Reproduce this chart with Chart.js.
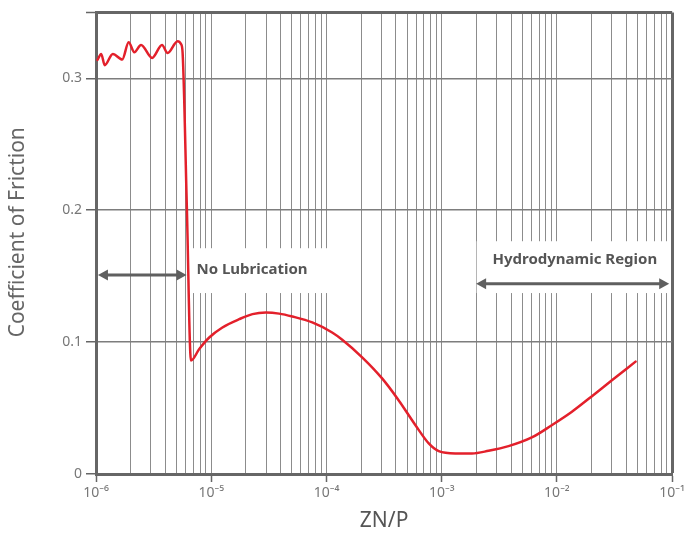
<!DOCTYPE html>
<html>
<head>
<meta charset="utf-8">
<script src="https://cdn.jsdelivr.net/npm/chart.js@4.4.1/dist/chart.umd.min.js"></script>
<style>
  html, body { margin: 0; padding: 0; background: #fff; }
  #wrap { width: 688px; height: 535px; }
</style>
</head>
<body>
<div id="wrap"><canvas id="frictionChart"></canvas></div>
<script>
// Stribeck curve, values
const znp = [
  1.03e-6, 1.11e-6, 1.19e-6, 1.40e-6, 1.69e-6, 1.92e-6, 2.15e-6, 2.46e-6,
  3.07e-6, 3.74e-6, 4.18e-6, 5.11e-6, 5.47e-6, 5.64e-6, 6.14e-6, 6.67e-6,
  7.87e-6, 9.61e-6, 1.25e-5, 1.75e-5, 2.28e-5, 2.98e-5, 3.88e-5, 5.06e-5,
  7.53e-5, 1.12e-4, 1.37e-4, 2.04e-4, 3.04e-4, 4.24e-4, 5.92e-4, 7.72e-4,
  9.42e-4, 1.31e-3, 1.83e-3, 2.55e-3, 3.80e-3, 6.05e-3, 9.02e-3, 1.34e-2,
  2.00e-2, 2.98e-2, 4.81e-2
];
const friction = [
  0.314, 0.3185, 0.310, 0.3185, 0.3143, 0.3273, 0.3198, 0.3253,
  0.3155, 0.3253, 0.3192, 0.3281, 0.326, 0.3198, 0.203, 0.086,
  0.0948, 0.1035, 0.1111, 0.1174, 0.1212, 0.1224, 0.1216, 0.1194,
  0.1149, 0.1073, 0.1018, 0.0885, 0.0725, 0.0558, 0.037, 0.0232,
  0.0173, 0.0156, 0.0156, 0.0176, 0.0211, 0.0277, 0.037, 0.047,
  0.0588, 0.0709, 0.0852
];

// axis ticks
const decadeExps = [-6, -5, -4, -3, -2, -1];
const yTickValues = [0, 0.1, 0.2, 0.3, 0.35];
const yTickLabels = ['0', '0.1', '0.2', '0.3', ''];

// region notes (data coordinates)
const regionNames = ['No Lubrication', 'Hydrodynamic Region'];
const regionBoxes = [
  { x0: 6.23e-6, x1: 1.41e-4, y0: 0.1372, y1: 0.1712 },
  { x0: 2.01e-3, x1: 9.30e-2, y0: 0.1372, y1: 0.1765 }
];
const regionArrows = [
  { x0: 1.04e-6, x1: 6.11e-6, y: 0.1508 },
  { x0: 1.99e-3, x1: 9.42e-2, y: 0.1442 }
];
const regionText = [
  { x: 7.45e-6, y: 0.1546, align: 'left' },
  { x: 1.43e-2, y: 0.1621, align: 'center' }
];

const SUP = { '-': '\u207B', '0': '\u2070', '1': '\u00B9', '2': '\u00B2', '3': '\u00B3',
  '4': '\u2074', '5': '\u2075', '6': '\u2076', '7': '\u2077', '8': '\u2078', '9': '\u2079' };
const sup = s => String(s).split('').map(c => SUP[c] || c).join('');

const isDecade = v => Math.abs(Math.log10(v) - Math.round(Math.log10(v))) < 1e-6;

const gray = '#666';
const font = "'Noto Sans', 'Open Sans', sans-serif";

function drawArrow(ctx, xa, xb, y) {
  const head = 10, half = 5.5;
  ctx.strokeStyle = '#5f5f5f';
  ctx.fillStyle = '#5f5f5f';
  ctx.lineWidth = 3;
  ctx.beginPath();
  ctx.moveTo(xa + head - 1, y);
  ctx.lineTo(xb - head + 1, y);
  ctx.stroke();
  ctx.beginPath();
  ctx.moveTo(xa, y); ctx.lineTo(xa + head, y - half); ctx.lineTo(xa + head, y + half);
  ctx.closePath(); ctx.fill();
  ctx.beginPath();
  ctx.moveTo(xb, y); ctx.lineTo(xb - head, y - half); ctx.lineTo(xb - head, y + half);
  ctx.closePath(); ctx.fill();
}

const regionNotes = {
  id: 'regionNotes',
  beforeDatasetsDraw(chart) {
    const { ctx, scales: { x, y } } = chart;
    ctx.save();
    ctx.fillStyle = '#fff';
    regionBoxes.forEach(b => {
      const px0 = x.getPixelForValue(b.x0), px1 = x.getPixelForValue(b.x1);
      const py0 = y.getPixelForValue(b.y1), py1 = y.getPixelForValue(b.y0);
      ctx.fillRect(px0, py0, px1 - px0, py1 - py0);
    });
    regionArrows.forEach(a => {
      drawArrow(ctx, x.getPixelForValue(a.x0), x.getPixelForValue(a.x1), y.getPixelForValue(a.y));
    });
    ctx.font = "bold 15px " + font;
    ctx.fillStyle = '#555';
    ctx.textBaseline = 'middle';
    regionText.forEach((t, i) => {
      ctx.textAlign = t.align;
      ctx.fillText(regionNames[i], x.getPixelForValue(t.x), y.getPixelForValue(t.y));
    });
    ctx.restore();
  }
};

new Chart(document.getElementById('frictionChart'), {
  type: 'line',
  data: {
    datasets: [{
      data: znp.map((v, i) => ({ x: v, y: friction[i] })),
      borderColor: '#e3202b',
      borderWidth: 2.5,
      pointRadius: 0,
      cubicInterpolationMode: 'monotone',
      borderCapStyle: 'round',
      borderJoinStyle: 'round'
    }]
  },
  plugins: [regionNotes],
  options: {
    responsive: true,
    maintainAspectRatio: false,
    animation: false,
    devicePixelRatio: 1,
    layout: { padding: { top: 10, right: 13, left: 0, bottom: 0 } },
    plugins: { legend: { display: false }, tooltip: { enabled: false } },
    scales: {
      x: {
        type: 'logarithmic',
        min: 1e-6,
        max: 1e-1,
        afterFit: s => { s.height = 61; },
        afterBuildTicks: s => {
          const t = [];
          decadeExps.forEach((e, i) => {
            if (i === decadeExps.length - 1) { t.push({ value: Math.pow(10, e) }); return; }
            for (let m = 1; m <= 9; m++) t.push({ value: m * Math.pow(10, e) });
          });
          s.ticks = t;
        },
        border: { color: gray, width: 3 },
        grid: {
          color: c => (c.tick && c.tick.value > 0.099) ? gray : '#8c8c8c',
          lineWidth: c => (c.tick && c.tick.value > 0.099) ? 3 : 1,
          tickColor: c => (c.tick && isDecade(c.tick.value)) ? gray : 'rgba(0,0,0,0)',
          tickLength: 8,
          tickWidth: 1.5
        },
        ticks: {
          autoSkip: false,
          maxRotation: 0,
          padding: 3,
          color: '#777',
          font: { family: font, size: 14 },
          callback: v => isDecade(v) ? '10' + sup(Math.round(Math.log10(v))) : ''
        },
        title: {
          display: true,
          text: 'ZN/P',
          color: '#555',
          font: { family: font, size: 21 },
          padding: { top: 0, bottom: 1 }
        }
      },
      y: {
        min: 0,
        max: 0.35,
        afterFit: s => { s.width = 96; },
        afterBuildTicks: s => { s.ticks = yTickValues.map(v => ({ value: v })); },
        border: { color: gray, width: 3 },
        grid: {
          color: c => (c.tick && c.tick.value > 0.34) ? gray : '#7d7d7d',
          lineWidth: c => (c.tick && c.tick.value > 0.34) ? 3 : 1.5,
          tickColor: gray,
          tickLength: 10,
          tickWidth: 1.5
        },
        ticks: {
          padding: 4,
          color: '#777',
          font: { family: font, size: 14 },
          callback: (v, i) => yTickLabels[i]
        },
        title: {
          display: true,
          text: '    Coefficient of Friction',
          color: '#666',
          font: { family: font, size: 21 },
          padding: { top: 5, bottom: 0 }
        }
      }
    }
  }
});
</script>
</body>
</html>
